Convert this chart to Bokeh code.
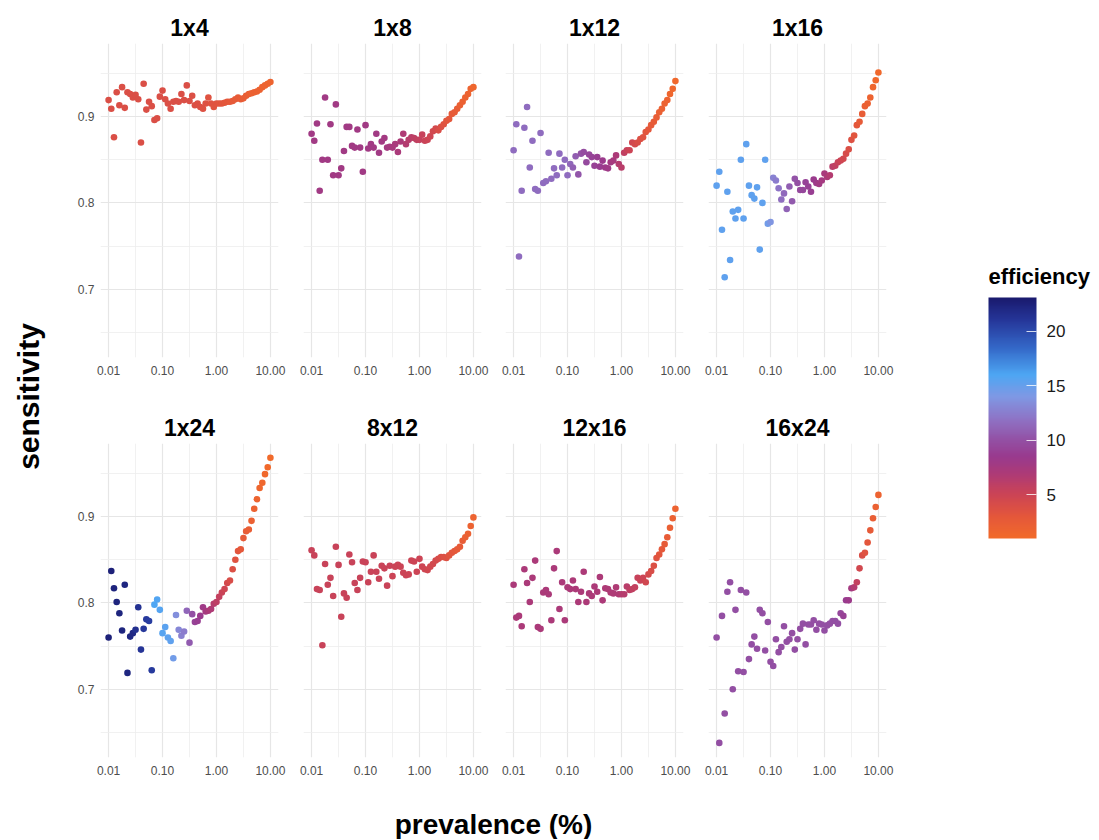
from bokeh.plotting import figure
from bokeh.layouts import row, column
from bokeh.models import (ColumnDataSource, LinearColorMapper, ColorBar, FixedTicker,
                          NumeralTickFormatter, Range1d, Label)
from bokeh.transform import transform
from bokeh.embed import file_html
from bokeh.resources import INLINE

# ---------------- data ----------------
prevalence = [0.01, 0.01122, 0.01259, 0.01413, 0.01585, 0.01778, 0.01995, 0.02239, 0.02512, 0.02818,
              0.03162, 0.03548, 0.03981, 0.04467, 0.05012, 0.05623, 0.0631, 0.07079, 0.07943, 0.08913,
              0.1, 0.1122, 0.1259, 0.1413, 0.1585, 0.1778, 0.1995, 0.2239, 0.2512, 0.2818,
              0.3162, 0.3548, 0.3981, 0.4467, 0.5012, 0.5623, 0.631, 0.7079, 0.7943, 0.8913,
              1.0, 1.122, 1.259, 1.413, 1.585, 1.778, 1.995, 2.239, 2.512, 2.818,
              3.162, 3.548, 3.981, 4.467, 5.012, 5.623, 6.31, 7.079, 7.943, 8.913, 10.0]

pools = ["1x4", "1x8", "1x12", "1x16", "1x24", "8x12", "12x16", "16x24"]

sens_1x4 = [0.919, 0.909, 0.876, 0.928, 0.913, 0.934, 0.910, 0.928, 0.926, 0.922,
            0.925, 0.920, 0.870, 0.938, 0.908, 0.917, 0.912, 0.896, 0.898, 0.923,
            0.930, 0.920, 0.915, 0.909, 0.917, 0.918, 0.917, 0.926, 0.919, 0.936,
            0.918, 0.924, 0.913, 0.915, 0.911, 0.909, 0.915, 0.922, 0.915, 0.911,
            0.915, 0.915, 0.915, 0.916, 0.917, 0.917, 0.918, 0.920, 0.922, 0.920,
            0.921, 0.924, 0.926, 0.927, 0.928, 0.929, 0.931, 0.934, 0.936, 0.938, 0.940]
sens_1x8 = [0.880, 0.872, 0.892, 0.814, 0.850, 0.922, 0.850, 0.891, 0.832, 0.914,
            0.832, 0.840, 0.860, 0.888, 0.888, 0.866, 0.864, 0.885, 0.864, 0.836,
            0.890, 0.863, 0.868, 0.864, 0.880, 0.858, 0.871, 0.875, 0.864, 0.865,
            0.864, 0.868, 0.859, 0.871, 0.880, 0.868, 0.873, 0.876, 0.875, 0.873,
            0.873, 0.879, 0.872, 0.873, 0.877, 0.883, 0.886, 0.884, 0.888, 0.891,
            0.895, 0.897, 0.903, 0.905, 0.909, 0.913, 0.917, 0.922, 0.926, 0.932, 0.934]
sens_1x12 = [0.861, 0.891, 0.738, 0.814, 0.887, 0.911, 0.841, 0.872, 0.816, 0.814,
             0.881, 0.823, 0.825, 0.858, 0.828, 0.840, 0.832, 0.857, 0.841, 0.850,
             0.832, 0.845, 0.841, 0.854, 0.833, 0.857, 0.859, 0.847, 0.856, 0.853,
             0.843, 0.853, 0.842, 0.849, 0.841, 0.840, 0.847, 0.849, 0.855, 0.845,
             0.841, 0.858, 0.861, 0.861, 0.870, 0.868, 0.870, 0.874, 0.876, 0.882,
             0.885, 0.890, 0.894, 0.899, 0.905, 0.909, 0.915, 0.919, 0.926, 0.932, 0.941]
sens_1x16 = [0.820, 0.836, 0.769, 0.714, 0.813, 0.734, 0.790, 0.782, 0.792, 0.850,
             0.782, 0.868, 0.820, 0.809, 0.805, 0.818, 0.746, 0.800, 0.850, 0.776,
             0.778, 0.829, 0.826, 0.817, 0.804, 0.811, 0.793, 0.819, 0.802, 0.828,
             0.823, 0.815, 0.815, 0.824, 0.819, 0.813, 0.827, 0.823, 0.822, 0.826,
             0.834, 0.830, 0.832, 0.842, 0.843, 0.847, 0.849, 0.851, 0.857, 0.862,
             0.873, 0.878, 0.890, 0.894, 0.903, 0.912, 0.915, 0.922, 0.934, 0.942, 0.951]
sens_1x24 = [0.760, 0.837, 0.817, 0.801, 0.788, 0.768, 0.821, 0.719, 0.761, 0.765,
             0.769, 0.795, 0.746, 0.770, 0.781, 0.779, 0.722, 0.798, 0.804, 0.792,
             0.765, 0.772, 0.760, 0.756, 0.736, 0.786, 0.769, 0.762, 0.767, 0.791,
             0.754, 0.787, 0.778, 0.779, 0.785, 0.795, 0.790, 0.791, 0.793, 0.799,
             0.801, 0.807, 0.812, 0.816, 0.823, 0.826, 0.839, 0.850, 0.860, 0.862,
             0.875, 0.883, 0.885, 0.895, 0.909, 0.920, 0.933, 0.939, 0.949, 0.957, 0.968]
sens_8x12 = [0.861, 0.855, 0.816, 0.815, 0.751, 0.845, 0.821, 0.829, 0.808, 0.865,
             0.844, 0.784, 0.811, 0.806, 0.856, 0.847, 0.823, 0.815, 0.829, 0.848,
             0.847, 0.824, 0.836, 0.855, 0.836, 0.828, 0.843, 0.840, 0.820, 0.843,
             0.831, 0.842, 0.844, 0.842, 0.835, 0.832, 0.833, 0.849, 0.848, 0.836,
             0.851, 0.842, 0.839, 0.838, 0.842, 0.845, 0.849, 0.851, 0.853, 0.853,
             0.852, 0.855, 0.858, 0.860, 0.862, 0.865, 0.872, 0.876, 0.880, 0.889, 0.899]
sens_12x16 = [0.821, 0.783, 0.785, 0.773, 0.839, 0.823, 0.801, 0.829, 0.849, 0.772,
              0.770, 0.812, 0.815, 0.810, 0.780, 0.840, 0.860, 0.793, 0.824, 0.780,
              0.818, 0.816, 0.826, 0.816, 0.801, 0.813, 0.836, 0.801, 0.811, 0.808,
              0.819, 0.813, 0.830, 0.803, 0.817, 0.816, 0.812, 0.811, 0.818, 0.810,
              0.810, 0.810, 0.819, 0.815, 0.816, 0.818, 0.829, 0.826, 0.829, 0.824,
              0.833, 0.837, 0.843, 0.852, 0.856, 0.862, 0.868, 0.876, 0.887, 0.898, 0.909]
sens_16x24 = [0.760, 0.638, 0.785, 0.672, 0.813, 0.824, 0.700, 0.792, 0.721, 0.815,
              0.720, 0.812, 0.735, 0.752, 0.761, 0.747, 0.792, 0.788, 0.745, 0.778,
              0.732, 0.727, 0.758, 0.743, 0.749, 0.773, 0.755, 0.758, 0.765, 0.746,
              0.758, 0.770, 0.776, 0.752, 0.775, 0.775, 0.780, 0.769, 0.776, 0.775,
              0.768, 0.774, 0.776, 0.779, 0.779, 0.776, 0.788, 0.785, 0.803, 0.803,
              0.817, 0.818, 0.824, 0.840, 0.855, 0.858, 0.870, 0.884, 0.898, 0.911, 0.925]

eff_1x4 = [3.9, 3.9, 3.9, 3.9, 3.9, 3.9, 3.9, 3.9, 3.9, 3.9,
           3.9, 3.9, 3.9, 3.9, 3.9, 3.9, 3.9, 3.9, 3.9, 3.9,
           3.9, 3.9, 3.9, 3.9, 3.9, 3.9, 3.9, 3.9, 3.9, 3.9,
           3.9, 3.8, 3.8, 3.7, 3.7, 3.6, 3.6, 3.5, 3.5, 3.4,
           3.4, 3.3, 3.2, 3.1, 3.0, 2.9, 2.8, 2.7, 2.6, 2.5,
           2.4, 2.3, 2.2, 2.1, 2.0, 1.95, 1.9, 1.85, 1.8, 1.75, 1.7]
eff_1x8 = [7.9, 7.9, 7.9, 7.9, 7.9, 7.9, 7.9, 7.9, 7.9, 7.9,
           7.9, 7.9, 7.9, 7.9, 7.9, 7.9, 7.9, 7.9, 7.9, 7.9,
           7.9, 7.9, 7.9, 7.9, 7.9, 7.9, 7.8, 7.7, 7.6, 7.5,
           7.4, 7.3, 7.2, 7.0, 6.8, 6.6, 6.4, 6.2, 6.0, 5.8,
           5.6, 5.4, 5.2, 5.0, 4.8, 4.6, 4.4, 4.1, 3.8, 3.5,
           3.2, 3.0, 2.8, 2.6, 2.4, 2.2, 2.0, 1.9, 1.8, 1.7, 1.6]
eff_1x12 = [11.6, 11.6, 11.6, 11.6, 11.6, 11.6, 11.6, 11.6, 11.6, 11.6,
            11.6, 11.6, 11.6, 11.6, 11.6, 11.6, 11.6, 11.6, 11.6, 11.6,
            11.6, 11.3, 11.0, 10.7, 10.4, 10.1, 9.8, 9.6, 9.4, 9.2,
            9.0, 8.8, 8.6, 8.4, 8.2, 8.0, 7.7, 7.4, 7.0, 6.6,
            6.2, 5.8, 5.4, 5.0, 4.7, 4.4, 4.1, 3.8, 3.5, 3.2,
            3.0, 2.8, 2.6, 2.4, 2.2, 2.0, 1.9, 1.8, 1.6, 1.5, 1.4]
eff_1x16 = [15.3, 15.3, 15.3, 15.3, 15.3, 15.3, 15.3, 15.3, 15.3, 15.3,
            15.3, 15.3, 15.3, 15.3, 15.3, 15.3, 15.3, 15.3, 15.3, 14.5,
            13.8, 12.8, 12.4, 12.0, 11.7, 11.4, 11.1, 10.8, 10.5, 10.2,
            9.9, 9.6, 9.4, 9.2, 9.0, 8.8, 8.5, 8.2, 7.9, 7.6,
            7.3, 7.0, 6.6, 6.2, 5.8, 5.4, 5.0, 4.6, 4.2, 3.9,
            3.6, 3.3, 3.0, 2.7, 2.4, 2.2, 2.0, 1.8, 1.6, 1.4, 1.3]
eff_1x24 = [22.5, 22.5, 22.4, 22.4, 22.3, 22.3, 22.2, 22.2, 22.1, 22.0,
            21.5, 21.3, 21.2, 21.0, 20.8, 20.6, 20.8, 16.0, 15.8, 15.7,
            15.6, 15.5, 15.4, 15.3, 14.5, 13.5, 13.0, 12.7, 12.4, 11.2,
            10.6, 10.0, 9.2, 8.8, 8.5, 8.0, 7.6, 7.2, 6.8, 6.4,
            6.0, 5.6, 5.2, 4.8, 4.4, 4.1, 3.8, 3.5, 3.2, 2.9,
            2.7, 2.5, 2.3, 2.1, 1.9, 1.7, 1.6, 1.45, 1.3, 1.2, 1.1]
eff_8x12 = [5.3, 5.3, 5.3, 5.3, 5.3, 5.3, 5.3, 5.3, 5.3, 5.3,
            5.3, 5.3, 5.3, 5.3, 5.3, 5.3, 5.3, 5.3, 5.3, 5.3,
            5.2, 5.2, 5.2, 5.2, 5.2, 5.2, 5.2, 5.2, 5.2, 5.2,
            5.1, 5.1, 5.1, 5.1, 5.1, 5.1, 5.0, 5.0, 5.0, 5.0,
            5.0, 4.9, 4.8, 4.7, 4.6, 4.5, 4.4, 4.2, 4.0, 3.8,
            3.6, 3.4, 3.2, 3.0, 2.8, 2.6, 2.4, 2.2, 2.0, 1.9, 1.8]
eff_12x16 = [7.1, 7.1, 7.1, 7.1, 7.1, 7.1, 7.1, 7.1, 7.1, 7.1,
             7.1, 7.1, 7.1, 7.1, 7.1, 7.1, 7.1, 7.1, 7.1, 7.1,
             7.0, 7.0, 7.0, 7.0, 7.0, 7.0, 7.0, 7.0, 7.0, 7.0,
             7.0, 7.0, 7.0, 7.0, 6.9, 6.9, 6.9, 6.9, 6.8, 6.8,
             6.6, 6.4, 6.2, 6.0, 5.8, 5.6, 5.4, 5.2, 5.0, 4.7,
             4.4, 4.1, 3.8, 3.5, 3.2, 2.9, 2.7, 2.5, 2.2, 2.0, 1.8]
eff_16x24 = [9.9, 9.9, 9.9, 9.9, 9.9, 9.9, 9.9, 9.9, 9.9, 9.9,
             9.9, 9.9, 9.9, 9.9, 9.9, 9.9, 9.9, 9.9, 9.9, 9.9,
             9.9, 9.9, 9.9, 9.9, 9.9, 9.9, 9.9, 9.9, 9.9, 9.9,
             9.9, 9.9, 9.9, 9.9, 9.9, 9.9, 9.9, 9.9, 9.9, 9.9,
             9.9, 9.9, 9.9, 9.9, 9.9, 9.9, 9.4, 9.0, 8.6, 8.2,
             7.6, 6.6, 5.6, 4.6, 4.0, 3.5, 3.1, 2.7, 2.3, 2.0, 1.8]

sensitivity = {"1x4": sens_1x4, "1x8": sens_1x8, "1x12": sens_1x12, "1x16": sens_1x16,
               "1x24": sens_1x24, "8x12": sens_8x12, "12x16": sens_12x16, "16x24": sens_16x24}
efficiency = {"1x4": eff_1x4, "1x8": eff_1x8, "1x12": eff_1x12, "1x16": eff_1x16,
              "1x24": eff_1x24, "8x12": eff_8x12, "12x16": eff_12x16, "16x24": eff_16x24}

x_major = [0.01, 0.1, 1, 10]
x_minor = [0.03162, 0.3162, 3.162]
y_major = [0.7, 0.8, 0.9]
y_minor = [0.65, 0.75, 0.85, 0.95]
cbar_ticks = [5, 10, 15, 20]

# ---------------- styling ----------------
FONT = "Liberation Sans"
EFF_LOW, EFF_HIGH = 1.0, 23.1
anchors = [(1.0, "#f26b2a"), (3.0, "#e4573b"), (5.0, "#cc4455"), (7.0, "#ac3a78"),
           (8.5, "#993a8e"), (10.0, "#9350a4"), (12.0, "#8e74c6"), (14.0, "#7f98e4"),
           (16.0, "#4ea6f3"), (18.5, "#3468c8"), (21.0, "#26379a"), (23.1, "#1a1a6e")]


def hex2rgb(h):
    h = h.lstrip("#")
    return tuple(int(h[i:i + 2], 16) for i in (0, 2, 4))


def build_palette(n=256):
    out = []
    for k in range(n):
        v = EFF_LOW + (EFF_HIGH - EFF_LOW) * k / (n - 1)
        for (v0, c0), (v1, c1) in zip(anchors[:-1], anchors[1:]):
            if v0 <= v <= v1:
                t = (v - v0) / (v1 - v0)
                a, b = hex2rgb(c0), hex2rgb(c1)
                rgb = tuple(int(round(a[j] + (b[j] - a[j]) * t)) for j in range(3))
                out.append("#%02x%02x%02x" % rgb)
                break
    return out


mapper = LinearColorMapper(palette=build_palette(), low=EFF_LOW, high=EFF_HIGH)

FRAME_W, FRAME_H = 178, 314
LEFT = [32, 13, 12, 13]
TOP = [43, 50]
BOTTOM = [36, 30]
ROWS_H = TOP[0] + FRAME_H + BOTTOM[0] + TOP[1] + FRAME_H + BOTTOM[1]   # 787


def make_panel(name, col, r):
    p = figure(frame_width=FRAME_W, frame_height=FRAME_H, x_axis_type="log",
               x_range=Range1d(0.007079, 14.125), y_range=Range1d(0.6211, 0.9845),
               y_axis_location="left" if col == 0 else None,
               output_backend="svg", toolbar_location=None, title=name,
               min_border_left=LEFT[col], min_border_right=12,
               min_border_top=TOP[r], min_border_bottom=BOTTOM[r])
    p.outline_line_color = None
    p.background_fill_color = "white"
    p.border_fill_color = "white"
    p.title.align = "center"
    p.title.text_font = FONT
    p.title.text_font_size = "23px"
    p.title.text_font_style = "bold"
    p.title.text_color = "#000000"
    p.title.standoff = 6

    xt = FixedTicker(ticks=x_major, minor_ticks=x_minor)
    yt = FixedTicker(ticks=y_major, minor_ticks=y_minor)
    p.xaxis.ticker = xt
    p.xgrid.ticker = xt
    p.ygrid.ticker = yt
    p.xaxis.formatter = NumeralTickFormatter(format="0.00")
    for ax in list(p.xaxis) + list(p.yaxis):
        ax.axis_line_color = None
        ax.major_tick_line_color = None
        ax.minor_tick_line_color = None
        ax.major_tick_out = 0
        ax.major_tick_in = 0
        ax.minor_tick_out = 0
        ax.minor_tick_in = 0
        ax.major_label_text_font = FONT
        ax.major_label_text_font_size = "12px"
        ax.major_label_text_color = "#4d4d4d"
    p.xaxis.major_label_standoff = 8
    if col == 0:
        p.yaxis.ticker = yt
        p.yaxis.major_label_standoff = 6
    for g in list(p.xgrid) + list(p.ygrid):
        g.grid_line_color = "#e6e6e6"
        g.grid_line_width = 1.2
        g.minor_grid_line_color = "#eeeeee"
        g.minor_grid_line_width = 0.8

    src = ColumnDataSource(dict(prev=prevalence, sens=sensitivity[name], eff=efficiency[name]))
    p.scatter(x="prev", y="sens", source=src, size=6.6,
              fill_color=transform("eff", mapper), line_color=None)
    return p


panels = [make_panel(name, i % 4, i // 4) for i, name in enumerate(pools)]
grid_rows = column(row(*panels[:4]), row(*panels[4:]))


def blank(width, height):
    f = figure(width=width, height=height, output_backend="svg", toolbar_location=None,
               x_range=Range1d(0, 1), y_range=Range1d(0, 1), min_border=0,
               x_axis_location=None, y_axis_location=None)
    f.grid.visible = False
    f.outline_line_color = None
    f.scatter([0.5], [0.5], alpha=0)
    return f


# y-axis title
ylab = blank(68, ROWS_H)
ylab.add_layout(Label(x=28, y=ROWS_H - 396, x_units="screen", y_units="screen",
                      text="sensitivity", angle=90, angle_units="deg",
                      text_align="center", text_baseline="middle",
                      text_font=FONT, text_font_size="30px", text_font_style="bold",
                      text_color="#000000"))

# legend (colour bar)
leg = blank(199, ROWS_H)
cbar = ColorBar(color_mapper=mapper, ticker=FixedTicker(ticks=cbar_ticks),
                width=48, height=241, location=(90, ROWS_H - 538), padding=0,
                major_label_text_font=FONT, major_label_text_font_size="17px",
                major_label_text_color="#1a1a1a", label_standoff=10,
                major_tick_line_color="white", major_tick_line_alpha=0.8,
                major_tick_in=10, major_tick_out=0, minor_tick_line_color=None,
                bar_line_color=None, border_line_color=None, background_fill_color=None)
leg.add_layout(cbar, "center")
leg.add_layout(Label(x=90, y=ROWS_H - 276, x_units="screen", y_units="screen",
                     text="efficiency", text_align="left", text_baseline="middle",
                     text_font=FONT, text_font_size="22px", text_font_style="bold",
                     text_color="#000000"))

# x-axis title
xlab = blank(1097, 52)
xlab.add_layout(Label(x=493, y=15, x_units="screen", y_units="screen",
                      text="prevalence (%)", text_align="center", text_baseline="middle",
                      text_font=FONT, text_font_size="28px", text_font_style="bold",
                      text_color="#000000"))

page = column(row(ylab, grid_rows, leg), xlab)

open("out.html", "w").write(file_html(page, INLINE))
